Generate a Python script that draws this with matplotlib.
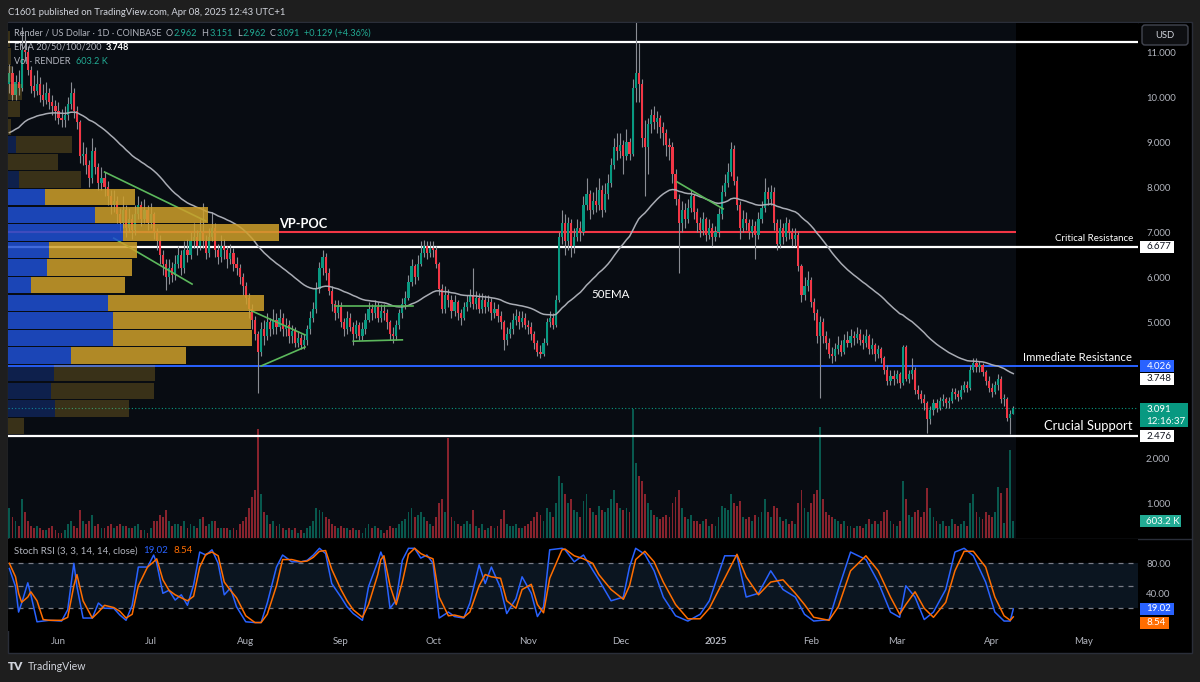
import numpy as np
import pandas as pd
import matplotlib
matplotlib.use('Agg')
import matplotlib.pyplot as plt
from matplotlib.patches import Rectangle, FancyBboxPatch

plt.rcParams['font.family'] = ['Lato', 'DejaVu Sans']

# ---------------- data (daily RENDER/USD, Coinbase) ----------------
start = pd.Timestamp('2024-05-16')
first_open = 10.3

closes = [
    10.55, 10.05, 10.35, 10.2, 11.05, 11.0, 10.6, 10.25, 10.15, 10.3,
    10.05, 9.95, 10.1, 9.9, 9.8, 9.7, 9.55, 9.5, 9.6, 9.85,
    10.1, 9.7, 9.45, 8.7, 8.75, 8.5, 8.2, 8.8, 8.45, 8.1,
    8.2, 8.0, 7.8, 7.6, 7.7, 7.4, 7.2, 7.5, 7.1, 7.3,
    7.05, 7.4, 7.6, 7.3, 7.5, 7.2, 7.4, 7.0, 6.8, 6.5,
    6.3, 6.0, 6.2, 6.05, 6.3, 6.5, 6.2, 6.6, 6.5, 6.8,
    6.9, 6.7, 7.0, 6.8, 6.55, 6.9, 7.1, 6.6, 6.45, 6.7,
    6.6, 6.4, 6.55, 6.3, 6.2, 6.0, 5.8, 5.55, 5.3, 5.05,
    4.75, 4.35, 4.85, 4.7, 5.0, 4.85, 5.05, 4.9, 5.1, 4.85,
    4.95, 4.7, 4.8, 4.55, 4.65, 4.5, 4.6, 4.85, 5.1, 5.3,
    5.75, 6.2, 6.45, 6.1, 5.7, 5.4, 5.2, 5.35, 5.0, 4.85,
    5.1, 4.9, 4.75, 4.95, 4.7, 4.85, 5.05, 5.3, 5.2, 5.35,
    5.1, 5.25, 5.2, 5.0, 4.75, 4.7, 4.95, 5.2, 5.4, 5.55,
    5.9, 6.25, 6.0, 6.3, 6.55, 6.7, 6.55, 6.65, 6.6, 6.3,
    5.75, 5.3, 5.6, 5.5, 5.25, 5.45, 5.2, 5.1, 5.35, 5.45,
    5.6, 5.4, 5.55, 5.3, 5.5, 5.35, 5.45, 5.2, 5.3, 5.15,
    5.0, 4.6, 4.75, 4.85, 5.05, 5.15, 5.0, 5.1, 4.95, 4.9,
    4.75, 4.55, 4.35, 4.3, 4.55, 5.0, 5.1, 4.95, 5.5, 6.9,
    7.2, 6.8, 7.2, 6.7, 6.9, 7.1, 7.0, 7.6, 7.85, 7.5,
    7.7, 7.6, 7.95, 7.5, 7.85, 8.1, 8.5, 8.9, 8.8, 8.95,
    8.7, 9.0, 8.75, 10.2, 10.55, 10.3, 9.1, 8.9, 9.4, 9.6,
    9.45, 9.55, 9.35, 9.2, 8.95, 8.9, 8.3, 7.75, 7.2, 7.5,
    7.3, 7.55, 7.8, 7.45, 7.2, 7.05, 7.3, 6.95, 7.1, 6.9,
    7.0, 7.4, 7.9, 8.1, 8.35, 8.85, 8.15, 7.6, 7.1, 7.3,
    7.2, 7.0, 7.15, 6.95, 7.3, 7.55, 7.9, 7.75, 7.9, 7.2,
    6.75, 7.1, 6.9, 7.2, 7.0, 6.85, 6.95, 6.25, 5.6, 5.8,
    5.95, 5.45, 5.2, 4.7, 5.0, 4.7, 4.55, 4.3, 4.25, 4.4,
    4.5, 4.35, 4.6, 4.55, 4.7, 4.65, 4.75, 4.6, 4.55, 4.7,
    4.4, 4.5, 4.3, 4.4, 4.2, 3.95, 3.7, 3.8, 3.75, 3.85,
    3.65, 4.45, 3.75, 3.85, 3.95, 3.5, 3.4, 3.3, 3.2, 2.85,
    3.05, 3.2, 3.1, 3.25, 3.3, 3.2, 3.25, 3.45, 3.4, 3.35,
    3.5, 3.6, 3.55, 3.95, 4.1, 4.0, 4.05, 3.9, 3.7, 3.55,
    3.45, 3.6, 3.75, 3.3, 3.3, 2.88, 2.962, 3.091,
]

highs = [
    10.75, 10.7, 10.5, 10.6, 11.56, 11.4, 11.15, 10.7, 10.5, 10.6,
    10.45, 10.3, 10.35, 10.2, 10.05, 9.95, 9.9, 9.75, 9.8, 10.0,
    10.35, 10.2, 9.8, 9.5, 9.0, 8.9, 8.6, 9.1, 8.9, 8.55,
    8.45, 8.35, 8.15, 7.95, 7.95, 7.8, 7.55, 7.8, 7.6, 7.55,
    7.4, 7.6, 7.8, 7.7, 7.75, 7.6, 7.65, 7.45, 7.1, 6.95,
    6.6, 6.4, 6.4, 6.35, 6.5, 6.7, 6.6, 6.8, 6.85, 7.0,
    7.2, 7.05, 7.3, 7.65, 6.95, 7.1, 7.45, 7.2, 6.75, 6.95,
    6.85, 6.7, 6.75, 6.65, 6.45, 6.3, 6.1, 5.9, 5.65, 5.4,
    5.15, 4.8, 5.0, 5.05, 5.2, 5.1, 5.3, 5.2, 5.3, 5.2,
    5.1, 5.05, 4.95, 4.9, 4.8, 4.75, 4.75, 4.95, 5.25, 5.45,
    5.9, 6.35, 6.6, 6.55, 6.2, 5.8, 5.5, 5.5, 5.45, 5.1,
    5.25, 5.2, 5.0, 5.05, 5.0, 5.0, 5.2, 5.45, 5.4, 5.5,
    5.45, 5.4, 5.4, 5.3, 5.05, 4.9, 5.05, 5.3, 5.55, 5.7,
    6.05, 6.4, 6.3, 6.5, 6.8, 6.83, 6.8, 6.8, 6.8, 6.7,
    6.35, 5.85, 5.8, 5.75, 5.6, 5.6, 5.5, 5.3, 5.45, 5.6,
    5.75, 6.2, 5.7, 5.65, 5.65, 5.6, 5.6, 5.55, 5.45, 5.4,
    5.25, 5.05, 4.9, 5.0, 5.2, 5.3, 5.25, 5.25, 5.2, 5.05,
    5.0, 4.8, 4.6, 4.5, 4.65, 5.1, 5.25, 5.2, 5.6, 7.0,
    7.5, 7.4, 7.35, 7.3, 7.1, 7.3, 7.25, 7.8, 8.2, 7.95,
    7.9, 8.0, 8.2, 8.05, 8.1, 8.3, 8.65, 9.1, 9.2, 9.2,
    9.05, 9.3, 9.1, 10.4, 11.7, 11.2, 10.4, 9.5, 9.55, 9.75,
    9.8, 9.7, 9.6, 9.45, 9.3, 9.1, 9.0, 8.4, 7.85, 7.7,
    7.65, 7.75, 7.95, 7.85, 7.55, 7.35, 7.45, 7.35, 7.3, 7.2,
    7.15, 7.55, 8.05, 8.3, 8.55, 9.0, 8.95, 8.25, 7.7, 7.5,
    7.45, 7.3, 7.3, 7.25, 7.45, 7.7, 8.2, 8.0, 8.05, 8.0,
    7.3, 7.3, 7.2, 7.35, 7.3, 7.1, 7.1, 7.0, 6.3, 6.0,
    6.15, 6.0, 5.55, 5.3, 5.15, 5.1, 4.8, 4.65, 4.45, 4.55,
    4.7, 4.6, 4.75, 4.8, 4.85, 4.8, 4.9, 4.85, 4.75, 4.85,
    4.75, 4.65, 4.55, 4.5, 4.45, 4.25, 4.05, 3.95, 3.95, 3.95,
    3.9, 4.5, 4.5, 3.95, 4.2, 4.0, 3.6, 3.5, 3.4, 3.25,
    3.15, 3.3, 3.3, 3.35, 3.4, 3.35, 3.35, 3.55, 3.55, 3.5,
    3.6, 3.7, 3.7, 4.05, 4.2, 4.2, 4.15, 4.1, 3.95, 3.8,
    3.65, 3.7, 3.85, 3.8, 3.4, 3.35, 3.05, 3.151,
]

lows = [
    10.1, 9.95, 9.95, 10.05, 10.15, 10.8, 10.5, 10.1, 10.0, 10.05,
    9.9, 9.8, 9.85, 9.75, 9.6, 9.5, 9.4, 9.35, 9.35, 9.5,
    9.75, 9.55, 9.3, 8.55, 8.5, 8.3, 8.0, 8.1, 8.3, 7.95,
    7.95, 7.8, 7.6, 7.4, 7.45, 7.2, 7.0, 7.1, 6.9, 7.0,
    6.85, 6.95, 7.3, 7.15, 7.2, 7.05, 7.1, 6.85, 6.6, 6.3,
    6.05, 5.72, 5.85, 5.9, 5.95, 6.2, 6.05, 6.1, 6.35, 6.4,
    6.65, 6.5, 6.6, 6.65, 6.4, 6.45, 6.8, 6.45, 6.3, 6.35,
    6.4, 6.2, 6.3, 6.15, 6.05, 5.85, 5.6, 5.4, 5.1, 4.85,
    4.6, 3.43, 4.25, 4.5, 4.6, 4.7, 4.75, 4.75, 4.8, 4.7,
    4.7, 4.55, 4.55, 4.45, 4.45, 4.4, 4.4, 4.5, 4.75, 5.0,
    5.2, 5.65, 6.05, 5.95, 5.6, 5.25, 5.05, 5.1, 4.9, 4.7,
    4.75, 4.8, 4.5, 4.65, 4.6, 4.6, 4.75, 5.0, 5.05, 5.1,
    5.0, 5.0, 5.05, 4.85, 4.6, 4.55, 4.6, 4.85, 5.1, 5.3,
    5.5, 5.8, 5.85, 5.95, 6.25, 6.45, 6.4, 6.45, 6.45, 6.2,
    5.6, 5.2, 5.2, 5.35, 5.1, 5.15, 5.05, 4.95, 5.05, 5.25,
    5.35, 5.3, 5.3, 5.2, 5.2, 5.2, 5.25, 5.05, 5.1, 5.0,
    4.85, 4.38, 4.5, 4.65, 4.75, 4.95, 4.85, 4.9, 4.85, 4.75,
    4.6, 4.4, 4.25, 4.2, 4.25, 4.5, 4.9, 4.85, 4.9, 5.45,
    6.75, 6.5, 6.6, 6.45, 6.55, 6.8, 6.8, 6.95, 7.5, 7.3,
    7.4, 7.45, 7.5, 7.35, 7.45, 7.75, 8.0, 8.4, 8.6, 8.65,
    8.3, 8.6, 8.6, 8.7, 9.9, 9.9, 8.9, 7.8, 8.3, 9.2,
    9.3, 9.2, 9.1, 8.95, 8.7, 8.6, 8.1, 7.6, 6.1, 7.0,
    7.1, 7.2, 7.45, 7.3, 7.0, 6.9, 6.95, 6.8, 6.85, 6.7,
    6.8, 6.9, 7.3, 7.8, 8.0, 8.25, 8.05, 7.5, 6.85, 7.0,
    7.05, 6.85, 6.9, 6.4, 6.85, 7.2, 7.45, 7.6, 7.6, 7.05,
    6.6, 6.65, 6.75, 6.8, 6.85, 6.7, 6.7, 6.15, 5.45, 5.5,
    5.7, 5.35, 5.05, 4.55, 3.32, 4.55, 4.4, 4.2, 4.1, 4.15,
    4.3, 4.25, 4.3, 4.45, 4.45, 4.5, 4.55, 4.5, 4.4, 4.45,
    4.3, 4.3, 4.15, 4.2, 4.1, 3.85, 3.6, 3.6, 3.6, 3.65,
    3.55, 3.6, 3.7, 3.65, 3.75, 3.4, 3.3, 3.2, 3.05, 2.54,
    2.75, 2.95, 3.0, 3.05, 3.15, 3.1, 3.1, 3.2, 3.3, 3.25,
    3.3, 3.45, 3.45, 3.5, 3.9, 3.9, 3.9, 3.8, 3.6, 3.45,
    3.35, 3.4, 3.5, 3.2, 3.15, 2.8, 2.52, 2.962,
]

# volume in millions of RENDER
volume_m = [
    0.9, 0.7, 0.6, 0.5, 1.1, 0.8, 0.6, 0.5, 0.45, 0.5,
    0.45, 0.4, 0.4, 0.45, 0.5, 0.4, 0.35, 0.35, 0.4, 0.55,
    0.6, 0.5, 0.45, 0.85, 0.6, 0.55, 0.6, 0.75, 0.5, 0.55,
    0.45, 0.45, 0.5, 0.55, 0.45, 0.5, 0.55, 0.5, 0.5, 0.45,
    0.45, 0.5, 0.55, 0.4, 0.4, 0.35, 0.45, 0.6, 0.6, 0.75,
    0.7, 0.85, 0.6, 0.5, 0.55, 0.55, 0.5, 0.6, 0.45, 0.55,
    0.5, 0.45, 0.65, 0.7, 0.5, 0.55, 0.6, 0.6, 0.45, 0.45,
    0.45, 0.45, 0.4, 0.45, 0.4, 0.55, 0.6, 0.7, 0.9, 1.15,
    1.3, 2.65, 1.2, 0.8, 0.75, 0.55, 0.6, 0.5, 0.55, 0.45,
    0.4, 0.45, 0.4, 0.45, 0.35, 0.4, 0.35, 0.45, 0.5, 0.6,
    0.9, 0.85, 0.8, 0.7, 0.65, 0.55, 0.5, 0.45, 0.5, 0.45,
    0.45, 0.4, 0.45, 0.4, 0.4, 0.35, 0.45, 0.55, 0.45, 0.5,
    0.45, 0.4, 0.35, 0.4, 0.5, 0.45, 0.45, 0.55, 0.6, 0.65,
    0.8, 0.9, 0.7, 0.75, 0.8, 0.7, 0.6, 0.55, 0.5, 0.7,
    1.0, 1.1, 0.8, 2.45, 0.7, 0.6, 0.55, 0.5, 0.55, 0.6,
    0.55, 0.85, 0.5, 0.45, 0.55, 0.4, 0.45, 0.5, 0.45, 0.5,
    0.65, 0.85, 0.55, 0.5, 0.5, 0.55, 0.45, 0.45, 0.5, 0.55,
    0.6, 0.7, 0.8, 0.75, 0.6, 0.9, 0.8, 0.7, 1.0, 1.6,
    1.45, 1.2, 1.0, 1.1, 0.85, 0.8, 0.7, 1.05, 1.2, 0.9,
    0.8, 0.75, 0.95, 0.85, 0.8, 0.9, 1.1, 1.3, 1.0, 0.9,
    0.85, 0.9, 0.8, 3.1, 1.9, 1.6, 1.5, 1.2, 1.0, 0.85,
    0.75, 0.7, 0.65, 0.7, 0.75, 0.7, 1.0, 1.15, 1.3, 0.9,
    0.7, 0.65, 0.75, 0.6, 0.6, 0.55, 0.6, 0.65, 0.5, 0.55,
    0.5, 0.7, 0.95, 0.9, 0.85, 1.2, 1.0, 0.95, 1.05, 0.7,
    0.65, 0.7, 0.6, 0.75, 0.7, 0.8, 1.1, 0.8, 0.7, 0.95,
    0.9, 0.7, 0.6, 0.65, 0.55, 0.6, 0.55, 1.0, 1.3, 0.9,
    0.8, 1.0, 1.2, 1.3, 2.7, 1.1, 0.8, 0.75, 0.7, 0.65,
    0.6, 0.55, 0.6, 0.5, 0.5, 0.45, 0.5, 0.5, 0.45, 0.55,
    0.65, 0.55, 0.6, 0.55, 0.6, 0.8, 0.85, 0.6, 0.55, 0.5,
    0.6, 1.5, 1.1, 0.75, 0.7, 0.8, 0.85, 0.7, 0.8, 1.35,
    0.9, 0.7, 0.6, 0.55, 0.6, 0.5, 0.5, 0.65, 0.55, 0.5,
    0.55, 0.6, 0.5, 1.0, 1.2, 0.8, 0.7, 0.65, 0.8, 0.75,
    0.7, 0.8, 1.36, 1.22, 0.56, 1.33, 2.18, 0.603,
]

ema_seed = 9.16  # 50 EMA value at the left edge of the chart

# Stoch RSI (3, 3, 14, 14)
stoch_day = [
    0, 2, 3, 4, 6, 7, 9, 11, 13, 17,
    19, 21, 22, 24, 27, 29, 31, 34, 36, 38,
    40, 42, 45, 47, 48, 50, 52, 54, 56, 58,
    60, 62, 64, 66, 68, 70, 72, 74, 77, 80,
    82, 84, 87, 89, 92, 95, 97, 99, 101, 103,
    105, 108, 110, 112, 115, 117, 120, 121, 122, 124,
    126, 128, 130, 132, 134, 136, 138, 140, 143, 145,
    148, 150, 153, 155, 157, 160, 162, 165, 167, 170,
    172, 174, 176, 180, 181, 184, 187, 190, 192, 196,
    200, 202, 204, 207, 210, 213, 217, 221, 225, 228,
    233, 237, 240, 244, 248, 252, 256, 259, 262, 267,
    270, 274, 279, 283, 287, 290, 292, 295, 298, 301,
    305, 308, 311, 314, 318, 321, 324, 326, 327,
]
stoch_k = [
    73, 49, 15, 27, 54, 38, 2, 3, 4, 3,
    18, 80, 49, 7, 7, 27, 20, 20, 11, 4,
    24, 75, 75, 91, 80, 40, 44, 31, 38, 24,
    51, 95, 91, 98, 80, 38, 47, 22, 2, 1,
    1, 27, 75, 91, 82, 82, 84, 91, 100, 93,
    53, 35, 22, 13, 4, 49, 82, 95, 84, 20,
    31, 84, 100, 100, 87, 91, 80, 7, 15, 9,
    7, 27, 78, 53, 75, 47, 13, 33, 62, 40,
    9, 22, 98, 100, 98, 82, 91, 71, 58, 30,
    35, 75, 100, 92, 70, 35, 10, 3, 12, 30,
    90, 90, 35, 40, 70, 45, 35, 12, 3, 5,
    45, 95, 85, 55, 15, 8, 50, 35, 5, 15,
    45, 95, 100, 90, 55, 15, 3, 3, 19.02,
]
stoch_d = [
    80, 62, 40, 28, 35, 42, 30, 5, 4, 4,
    8, 50, 65, 30, 7, 15, 24, 21, 16, 7,
    12, 50, 75, 82, 86, 58, 44, 38, 34, 30,
    36, 75, 92, 95, 90, 55, 44, 34, 10, 1,
    1, 12, 50, 85, 85, 82, 83, 88, 96, 97,
    72, 45, 30, 18, 8, 25, 65, 85, 90, 50,
    25, 55, 92, 100, 93, 89, 86, 35, 10, 11,
    8, 15, 50, 65, 62, 60, 30, 20, 45, 52,
    25, 14, 60, 98, 99, 90, 86, 80, 65, 45,
    32, 50, 85, 96, 82, 55, 25, 6, 6, 20,
    60, 92, 62, 38, 55, 58, 40, 25, 8, 4,
    22, 70, 90, 70, 35, 12, 25, 42, 20, 8,
    28, 70, 96, 96, 75, 35, 10, 4, 8.54,
]

# visible-range volume profile, rows from the bottom
vp_bottom = 2.50
vp_step = 0.391
vp_up = [0, 47, 43, 46, 63, 105, 105, 100, 23, 39, 41, 115, 87, 37, 11, 0, 8, 0, 0, 0, 0, 0, 0]
vp_down = [16, 74, 103, 101, 115, 139, 138, 156, 94, 85, 88, 156, 113, 90, 62, 50, 56, 3, 12, 14, 4, 3, 2]
value_area = range(4, 14)

poc_price = 7.00
top_line = 11.23
critical_res = 6.677
immediate_res = 4.026
crucial_sup = 2.476
ema_last = 3.748
last_close = 3.091
last_volume = '603.2 K'

trend_lines = [
    [(31, 8.34), (64, 7.25)],
    [(34, 6.87), (59.5, 5.85)],
    [(78.4, 5.27), (96.3, 4.72)],
    [(82, 4.03), (96.3, 4.45)],
    [(106, 5.36), (131.5, 5.36)],
    [(112, 4.58), (128, 4.61)],
    [(217.5, 8.12), (232.5, 7.52)],
]

# ---------------- layout (pixels) ----------------
W, H = 1200, 682
PANE_L, PANE_R = 8, 1138
MAIN_T, MAIN_B = 23, 538
STO_T, STO_B = 539, 631
PY7, PPX = 232.3, 45.0       # y of price 7.0, px per 1.0
VZERO = 548.3                # y of zero volume, 45 px per 1M
SZERO, SPX = 623.3, 0.75     # stoch 0 y, px per unit
DX0, DPX = 58.5, 3.07        # x of 2024-06-01, px per day
D_JUN1 = 16

UP, DOWN = '#089981', '#f23645'
TXT = '#b2b5be'


def py(p):
    return PY7 + (7 - p) * PPX


def day_at(x):
    return D_JUN1 + (x - DX0) / DPX


fig = plt.figure(figsize=(W / 100, H / 100), dpi=100)
fig.patch.set_facecolor('#1e1e1e')


def axes_px(x0, y0, x1, y1):
    return fig.add_axes([x0 / W, 1 - y1 / H, (x1 - x0) / W, (y1 - y0) / H])


ax_bg = axes_px(0, 0, W, H)
ax_bg.set_xlim(0, W)
ax_bg.set_ylim(H, 0)
ax_bg.axis('off')
ax_bg.add_patch(Rectangle((PANE_L, 22), 1192 - PANE_L, 653 - 22, fc='black', ec='#2a2e39', lw=1))
ax_bg.plot([PANE_L, 1192], [538.5, 538.5], color='#2a2e39', lw=1)

days = np.arange(len(closes))
xlim = (day_at(PANE_L), day_at(PANE_R))
last_x = days[-1] + 0.8
price_lim = (7 - (MAIN_B - PY7) / PPX, 7 - (MAIN_T - PY7) / PPX)

# volume pane (also carries the main background)
ax_vol = axes_px(PANE_L, MAIN_T, PANE_R, MAIN_B)
ax_vol.set_facecolor('black')
ax_vol.set_xlim(*xlim)
ax_vol.set_ylim((VZERO - MAIN_B) / 45.0, (VZERO - MAIN_T) / 45.0)
ax_vol.add_patch(Rectangle((xlim[0], 0), last_x - xlim[0], 20, fc='#080c12', ec='none', zorder=0))
c = np.array(closes)
o = np.array([first_open] + closes[:-1])
up = c >= o
ax_vol.bar(days, volume_m, width=0.6, color=np.where(up, UP, DOWN), alpha=0.55, lw=0, zorder=1)
ax_vol.yaxis.tick_right()
ax_vol.set_yticks([1, 2])
ax_vol.set_yticklabels(['1.000', '2.000'])
ax_vol.set_xticks([])
ax_vol.tick_params(axis='y', length=0, pad=5.8, labelsize=6.9, labelcolor=TXT)
for s in ax_vol.spines.values():
    s.set_visible(False)

# price pane
ax = axes_px(PANE_L, MAIN_T, PANE_R, MAIN_B)
ax.set_facecolor('none')
ax.set_xlim(*xlim)
ax.set_ylim(*price_lim)
for s in ax.spines.values():
    s.set_visible(False)
ax.set_xticks([])
ax.yaxis.tick_right()
ax.set_yticks(range(5, 12))
ax.set_yticklabels([f'{v:.3f}' for v in range(5, 12)])
ax.tick_params(axis='y', length=0, pad=5.8, labelsize=6.9, labelcolor=TXT)

ax.axhline(top_line, color='white', lw=1.6, zorder=1)
ax.axhline(critical_res, color='white', lw=1.6, zorder=1)
ax.axhline(crucial_sup, color='white', lw=1.6, zorder=1)
ax.axhline(immediate_res, color='#2962ff', lw=1.4, zorder=1)
ax.hlines(poc_price, xlim[0], last_x, color='#f23645', lw=1.5, zorder=1)
ax.axhline(last_close, color=UP, lw=0.8, ls=(0, (1, 2)), zorder=1)

ax.vlines(days, lows, highs, color='#8a8d94', lw=0.8, zorder=2)
body_lo = np.minimum(o, c)
body_h = np.maximum(np.abs(c - o), 0.015)
ax.bar(days, body_h, bottom=body_lo, width=0.7, color=np.where(up, UP, DOWN), lw=0, zorder=3)

ema = pd.Series([ema_seed] + closes).ewm(span=50, adjust=False).mean().to_numpy()[1:]
ax.plot(days, ema, color='#a9acb4', lw=1.1, zorder=4)

for seg in trend_lines:
    xs, ys = zip(*seg)
    ax.plot(xs, ys, color='#5cb85c', lw=1.2, zorder=5)

# volume profile overlay
ax_vp = axes_px(PANE_L, MAIN_T, PANE_R, MAIN_B)
ax_vp.set_facecolor('none')
ax_vp.set_xlim(0, PANE_R - PANE_L)
ax_vp.set_ylim(*price_lim)
ax_vp.axis('off')
for k in range(len(vp_up)):
    yc = vp_bottom + (k + 0.5) * vp_step
    bright = k in value_area
    ax_vp.barh(yc, vp_up[k], height=vp_step * 0.93, left=0,
               color='#1f50d4', alpha=0.85 if bright else 0.3, lw=0)
    ax_vp.barh(yc, vp_down[k], height=vp_step * 0.93, left=vp_up[k],
               color='#cfa02a', alpha=0.85 if bright else 0.25, lw=0)

# stoch RSI pane
ax_st = axes_px(PANE_L, STO_T, PANE_R, STO_B)
ax_st.set_facecolor('black')
ax_st.set_xlim(*xlim)
ax_st.set_ylim((SZERO - STO_B) / SPX, (SZERO - STO_T) / SPX)
for s in ax_st.spines.values():
    s.set_visible(False)
ax_st.axhspan(20, 80, color='#0b1520', lw=0, zorder=0)
for lvl in (80, 50, 20):
    ax_st.axhline(lvl, color='#787b86', lw=0.9, ls=(0, (4, 4)), zorder=1)
ax_st.plot(stoch_day, stoch_k, color='#2962ff', lw=1.1, zorder=2)
ax_st.plot(stoch_day, stoch_d, color='#ff6d00', lw=1.1, zorder=3)
ax_st.yaxis.tick_right()
ax_st.set_yticks([40, 80])
ax_st.set_yticklabels(['40.00', '80.00'])
ax_st.tick_params(axis='y', length=0, pad=5.8, labelsize=6.9, labelcolor=TXT)

months = pd.date_range('2024-06-01', '2025-05-01', freq='MS')
ax_st.set_xticks((months - start).days)
ax_st.set_xticklabels(['2025' if m.month == 1 else m.strftime('%b') for m in months])
ax_st.tick_params(axis='x', length=0, pad=4.3, labelsize=7.0, labelcolor=TXT)
for t in ax_st.get_xticklabels():
    if t.get_text() == '2025':
        t.set_fontweight('bold')

# overlay for labels and tags
af = axes_px(0, 0, W, H)
af.set_xlim(0, W)
af.set_ylim(H, 0)
af.axis('off')
renderer = fig.canvas.get_renderer()


def run(x, y, pieces, size):
    # write coloured pieces one after another on a line
    for s, col, gap, bold in pieces:
        t = af.text(x, y, s, fontsize=size, color=col, va='center',
                    fontweight='bold' if bold else 'normal')
        x += t.get_window_extent(renderer).width + gap


af.text(8, 12.5, 'C1601 published on TradingView.com, Apr 08, 2025 12:43 UTC+1',
        fontsize=6.85, color='#d1d4dc', va='center')

teal = '#22ab94'
run(14.5, 33.5, [('Render / US Dollar · 1D · COINBASE', TXT, 4, False),
                 ('O', TXT, 0.5, False), ('2.962', teal, 4.5, False),
                 ('H', TXT, 0.5, False), ('3.151', teal, 4.5, False),
                 ('L', TXT, 0.5, False), ('2.962', teal, 4.5, False),
                 ('C', TXT, 0.5, False), ('3.091', teal, 4.5, False),
                 ('+0.129 (+4.36%)', teal, 0, False)], 6.6)
run(14.5, 47.3, [('EMA 20/50/100/200', TXT, 4, False), (f'{ema_last:.3f}', 'white', 0, True)], 6.6)
run(14.5, 61, [('Vol · RENDER', TXT, 4.5, False), (last_volume, teal, 0, False)], 6.6)
run(14.5, 550.7, [('Stoch RSI (3, 3, 14, 14, close)', TXT, 5, False),
                  (f'{stoch_k[-1]:.2f}', '#2962ff', 5, False),
                  (f'{stoch_d[-1]:.2f}', '#ff6d00', 0, False)], 7.0)

af.text(279, py(poc_price) - 8, 'VP-POC', fontsize=9.2, color='white', fontweight='bold', va='center')
af.text(591, 295, '50EMA', fontsize=8.3, color='white', va='center')
af.text(1133, py(critical_res) - 8, 'Critical Resistance', fontsize=7.0, color='white', ha='right', va='center')
af.text(1132, py(immediate_res) - 9, 'Immediate Resistance', fontsize=8.2, color='white', ha='right', va='center')
af.text(1132, py(crucial_sup) - 9.5, 'Crucial Support', fontsize=9.4, color='white', ha='right', va='center')


def tag(y0, y1, fc, text, tc, x1=1174, sub=None):
    af.add_patch(Rectangle((1139.5, y0), x1 - 1139.5, y1 - y0, fc=fc, ec='none'))
    if sub is None:
        af.text(1146.5, (y0 + y1) / 2, text, fontsize=7.0, color=tc, va='center')
    else:
        af.text(1146.5, y0 + 6.5, text, fontsize=7.0, color=tc, va='center')
        af.text(1146.5, y0 + 18.5, sub, fontsize=7.0, color=tc, va='center')


tag(py(critical_res) - 6, py(critical_res) + 6, 'white', f'{critical_res:.3f}', '#131722')
tag(py(immediate_res) - 6, py(immediate_res) + 6, '#2962ff', f'{immediate_res:.3f}', 'white')
tag(py(ema_last) - 6, py(ema_last) + 6.5, 'white', f'{ema_last:.3f}', '#131722')
tag(py(last_close) - 5.5, py(last_close) + 19, UP, f'{last_close:.3f}', 'white', x1=1188, sub='12:16:37')
tag(py(crucial_sup) - 5.5, py(crucial_sup) + 6, 'white', f'{crucial_sup:.3f}', '#131722')
vy = VZERO - volume_m[-1] * 45
tag(vy - 6, vy + 6, teal, last_volume, 'white', x1=1181)
ky = SZERO - stoch_k[-1] * SPX
tag(ky - 6.5, ky + 6, '#2962ff', f'{stoch_k[-1]:.2f}', 'white')
tag(ky + 7.5, ky + 20, '#ff6d00', f'{stoch_d[-1]:.2f}', 'white', x1=1169)

af.add_patch(Rectangle((1139, 23), 52, 26, fc='black', ec='none'))
af.add_patch(FancyBboxPatch((1142, 25), 46, 20, boxstyle='round,pad=0,rounding_size=3',
                            fc='#0e0f12', ec='#434651', lw=1))
af.text(1165, 35, 'USD', fontsize=6.8, color='#d1d4dc', ha='center', va='center')

af.text(8, 667, 'TV', fontsize=8.5, color='#d1d4dc', fontweight='heavy', va='center')
af.text(28, 667, 'TradingView', fontsize=7.6, color='#d1d4dc', va='center')

fig.savefig('out.png', dpi=100, facecolor=fig.get_facecolor())
